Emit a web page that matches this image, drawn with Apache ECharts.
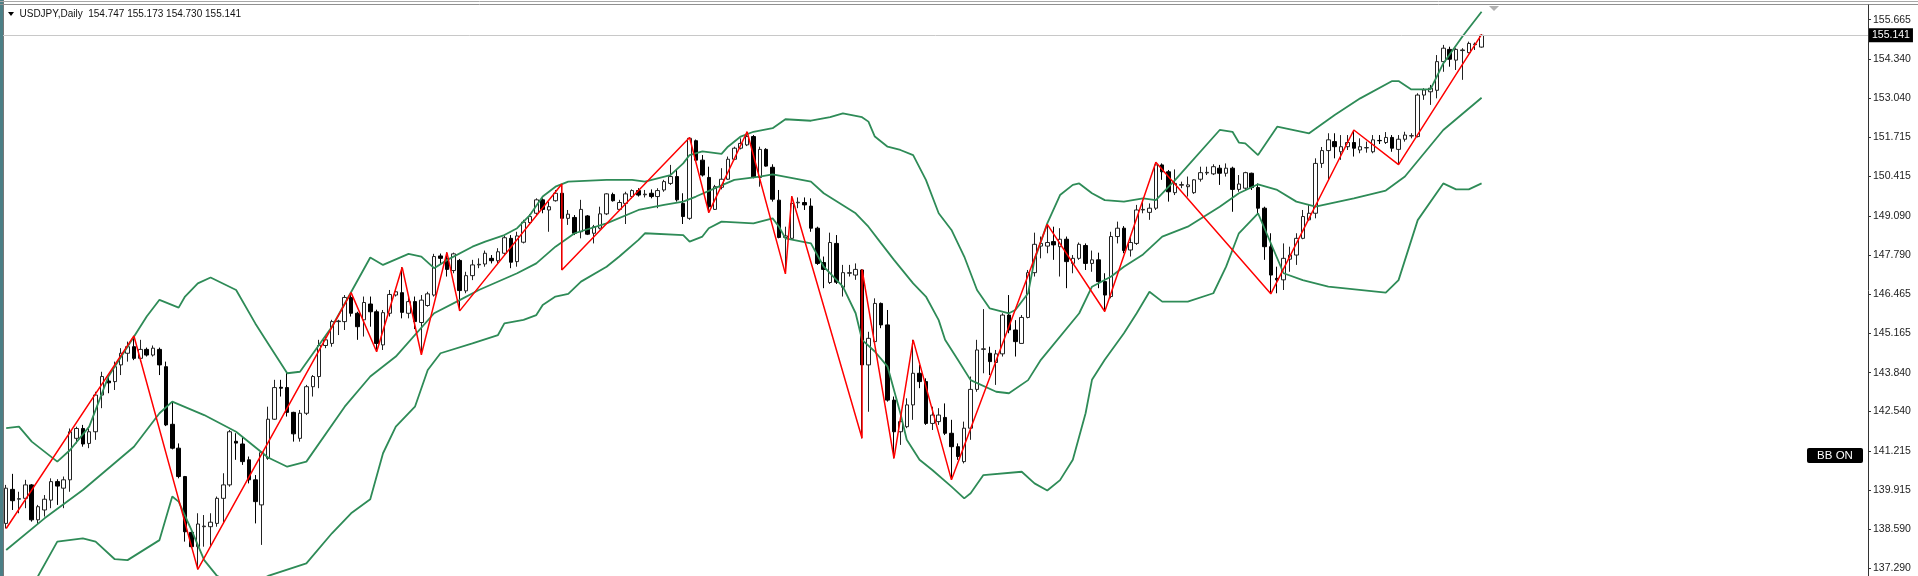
<!DOCTYPE html>
<html><head><meta charset="utf-8">
<script src="https://cdn.jsdelivr.net/npm/echarts@6/dist/echarts.min.js"></script>
<style>html,body{margin:0;padding:0;background:#fff;overflow:hidden}#c{width:1918px;height:576px}</style>
</head><body><div id="c"></div>
<script>
const symbolName = 'USDJPY,Daily';
const open = [138.79,139.93,139.60,139.63,140.08,138.91,139.24,139.57,140.19,139.97,
140.25,141.64,141.97,141.47,141.86,143.09,143.56,143.54,144.10,144.49,
144.71,144.32,144.62,144.43,144.62,144.04,142.11,141.31,140.36,138.49,
138.01,138.68,138.68,138.79,139.63,140.08,141.54,141.45,140.92,140.25,
139.41,140.97,142.28,143.35,143.34,142.51,141.64,142.48,143.37,143.71,
144.75,144.82,145.55,145.55,146.36,145.83,145.61,146.14,145.88,144.77,
145.83,146.44,146.52,145.83,146.22,145.52,146.09,146.44,147.75,147.67,
147.26,147.60,146.58,147.09,147.45,147.48,147.67,147.59,147.84,148.34,
147.56,148.21,148.87,149.18,149.63,149.29,149.60,149.85,149.01,149.04,
148.56,149.09,148.51,148.68,149.16,149.81,149.31,149.51,149.74,149.94,
149.80,149.85,149.74,149.96,150.18,150.41,149.51,149.01,151.61,150.96,
150.38,149.31,150.05,150.32,150.99,151.36,151.47,151.75,150.38,151.32,
150.72,149.62,148.37,148.34,149.53,149.54,149.42,148.68,147.53,146.86,
148.17,146.70,147.17,147.11,147.28,144.10,144.88,146.16,145.44,142.92,
141.86,142.03,142.76,143.82,143.54,142.14,142.20,142.34,141.81,141.36,
140.86,141.98,143.28,144.62,144.49,144.18,144.47,145.77,145.27,144.82,
145.69,147.19,148.08,148.08,148.23,148.06,148.31,147.50,147.67,148.10,
147.50,147.62,146.89,146.39,148.40,148.68,147.95,148.17,149.29,149.21,
149.35,150.80,150.57,149.87,150.12,150.07,149.87,150.32,150.53,150.50,
150.69,150.52,150.69,149.98,150.02,150.52,150.04,149.35,148.06,147.00,
146.95,147.64,147.78,148.34,148.96,149.18,150.85,151.28,151.58,151.24,
151.41,151.55,151.30,151.37,151.24,151.62,151.55,151.72,151.32,151.66,
151.77,151.75,153.14,153.25,153.30,154.26,154.67,154.31,154.63,154.56,
154.83,154.747];
const high = [140.08,140.45,139.85,140.25,140.11,139.41,139.74,140.30,140.27,140.36,
141.97,142.03,142.09,141.97,143.20,143.87,143.71,144.21,144.66,144.88,
145.07,144.94,144.68,144.75,144.68,144.21,142.87,141.47,140.38,138.51,
139.13,139.07,139.13,139.69,140.47,141.92,141.81,141.70,141.03,140.41,
141.19,142.70,143.60,143.60,143.87,142.53,142.59,143.43,143.76,144.94,
145.10,145.61,145.61,146.44,146.52,145.88,146.39,146.39,145.95,145.94,
146.61,146.63,147.37,146.39,146.39,146.44,146.55,147.82,147.83,147.87,
147.86,147.65,147.22,147.62,147.67,147.93,147.78,148.01,148.42,148.45,
148.56,148.96,149.15,149.68,149.68,149.57,149.96,150.16,149.29,149.12,
149.63,149.12,148.79,149.40,149.85,149.87,149.63,149.90,149.98,150.02,
149.96,149.98,150.02,150.30,150.80,150.63,149.85,151.72,151.65,151.13,
150.74,150.13,150.69,151.08,151.41,151.69,151.91,151.80,151.41,151.36,
150.82,149.96,148.73,149.75,149.71,149.71,149.68,148.73,147.73,148.53,
148.45,147.45,147.45,147.50,147.30,145.21,146.33,146.19,145.94,143.04,
142.48,142.98,144.94,144.10,143.65,142.70,142.65,142.81,142.26,141.47,
142.20,143.71,144.94,145.97,144.71,144.60,145.83,146.44,145.60,145.77,
147.28,148.53,148.40,148.81,148.73,148.68,148.40,147.78,148.20,148.17,
147.93,147.86,147.17,148.56,148.90,148.75,148.40,149.46,149.63,149.51,
150.89,150.85,150.63,150.65,150.24,150.41,150.32,150.74,150.74,150.82,
150.80,150.85,150.74,150.46,150.57,150.54,150.18,149.40,148.51,147.39,
148.17,148.06,148.51,149.29,149.46,151.02,151.40,151.86,151.86,151.80,
151.80,151.97,151.69,151.58,151.80,151.80,151.90,151.80,151.80,151.91,
151.86,153.20,153.37,153.48,154.48,154.82,154.76,154.71,154.71,154.93,
154.90,155.173];
const low = [138.62,139.24,139.13,139.30,138.85,138.77,139.02,139.30,139.41,139.30,
139.85,141.47,141.36,141.31,141.59,142.65,143.15,143.26,143.76,144.21,
144.26,144.21,144.38,144.38,143.76,142.05,141.27,140.30,138.18,137.96,
137.25,138.01,138.01,138.68,138.79,140.02,140.92,140.75,140.13,138.79,
138.07,140.92,142.26,143.04,142.37,141.53,141.53,142.42,143.04,143.32,
144.66,144.71,145.10,145.27,145.72,144.94,145.05,145.38,144.54,144.60,
145.72,146.39,145.66,145.66,145.30,144.44,146.05,146.39,147.45,147.06,
147.17,145.91,146.50,146.94,147.34,147.39,147.50,147.50,147.75,147.34,
147.39,148.17,148.79,149.12,149.18,148.56,149.57,147.28,148.79,148.45,
148.34,148.45,148.17,148.64,149.12,149.57,149.29,148.82,149.68,149.74,
149.71,149.68,149.35,149.90,150.13,149.57,148.82,148.96,150.91,150.41,
149.20,149.29,149.98,150.30,150.96,151.32,151.43,150.35,150.07,150.74,
149.57,148.34,147.15,148.29,149.35,149.29,148.56,147.45,146.67,146.81,
146.81,146.39,147.06,146.95,141.64,142.53,144.82,145.33,142.87,140.97,
141.42,141.98,142.26,143.32,142.09,141.92,142.09,141.75,140.25,140.92,
140.80,141.59,143.20,143.82,143.76,143.43,144.38,145.16,144.38,144.82,
145.66,147.06,147.67,147.84,147.62,147.06,146.67,147.17,147.62,147.28,
147.22,146.67,145.89,146.33,148.17,147.84,147.73,148.12,149.18,148.96,
149.29,150.30,149.57,149.79,150.02,149.74,149.83,150.24,150.46,150.46,
150.13,150.41,149.23,149.90,149.96,149.96,149.18,147.62,146.48,146.50,
146.61,147.22,147.45,148.31,148.93,149.01,150.70,150.30,151.02,150.97,
151.30,151.08,151.19,151.21,151.19,151.50,151.50,151.24,150.81,151.58,
151.69,151.72,152.98,152.81,153.03,153.92,154.09,153.98,153.65,154.54,
154.65,154.730];
const close = [139.97,139.55,139.62,140.08,138.91,139.35,139.60,140.19,140.04,140.25,
141.86,141.97,141.45,141.86,143.09,143.71,143.50,144.04,144.49,144.71,
144.32,144.62,144.43,144.66,144.10,142.09,141.31,140.36,138.51,138.01,
138.77,138.70,138.83,139.63,140.08,141.86,141.48,140.86,140.25,139.52,
141.16,142.28,143.34,143.32,142.51,141.79,142.48,143.37,143.71,144.75,
144.94,145.55,145.57,146.36,145.83,145.38,146.19,145.88,144.82,145.85,
146.46,146.55,145.86,146.22,145.55,146.27,146.48,147.73,147.67,147.30,
147.82,146.59,147.09,147.45,147.47,147.84,147.59,147.89,148.36,147.54,
148.42,148.88,149.07,149.63,149.31,149.40,149.85,149.01,149.15,148.51,
149.31,148.48,148.73,149.16,149.83,149.60,149.54,149.83,149.94,149.79,
149.82,149.74,149.94,150.24,150.41,149.63,149.07,151.69,150.96,150.46,
149.40,150.07,150.32,150.99,151.36,151.52,151.75,150.38,151.32,150.76,
149.65,148.37,148.42,149.51,149.55,149.46,148.68,147.50,147.30,148.20,
146.87,147.19,147.19,147.30,144.10,144.99,146.16,145.44,142.92,141.86,
142.20,142.76,143.82,143.54,142.14,142.42,142.42,141.81,141.36,141.03,
141.98,143.28,144.60,144.64,144.21,144.47,145.77,145.27,144.88,145.69,
147.19,148.14,148.17,148.20,148.12,148.31,147.56,147.67,148.14,147.50,
147.62,146.89,146.44,148.40,148.68,147.93,148.20,149.29,149.31,149.35,
150.80,150.57,149.90,150.18,150.14,150.13,150.30,150.54,150.55,150.74,
150.52,150.69,149.98,150.16,150.54,150.04,149.35,148.06,147.11,146.95,
147.67,147.78,148.34,149.07,149.18,150.85,151.28,151.64,151.41,151.41,
151.55,151.36,151.41,151.38,151.64,151.61,151.72,151.36,151.66,151.80,
151.78,153.14,153.31,153.37,154.26,154.71,154.34,154.67,154.65,154.87,
154.85,155.141];

// Bollinger band lines: [bar index, price]
const bbUpper = [[0,141.98],[2,142.03],[4,141.53],[8,140.86],[10,141.25],[13,142.03],[16,143.71],[19,144.71],[22,145.72],[24,146.28],[27,146.02],[28,146.39],[30,146.83],[32,147.03],[36,146.61],[39,145.49],[41,144.82],[44,143.82],[46,143.87],[51,145.38],[57,147.70],[59,147.45],[63,147.82],[65,147.73],[67,147.34],[69,147.61],[73,148.06],[75,148.23],[78,148.45],[80,148.68],[82,149.12],[84,149.74],[86,150.07],[88,150.24],[94,150.30],[98,150.30],[100,150.24],[104,150.46],[106,150.85],[107,151.13],[109,151.25],[112,151.17],[113,151.41],[115,151.75],[117,151.91],[120,152.03],[122,152.33],[126,152.28],[129,152.40],[131,152.53],[134,152.40],[135,152.25],[136,151.75],[138,151.41],[140,151.30],[142,151.13],[144,150.30],[146,149.18],[148,148.62],[150,147.73],[152,146.61],[154,145.99],[157,145.83],[158,145.94],[160,146.50],[161,147.62],[163,148.84],[165,149.79],[167,150.13],[168,150.18],[170,149.85],[172,149.62],[175,149.57],[178,149.68],[180,149.62],[183,150.29],[190,151.97],[192,151.91],[193,151.55],[194,151.52],[196,151.13],[199,152.08],[204,151.86],[208,152.47],[212,153.03],[217,153.61],[218,153.61],[220,153.33],[223,153.33],[225,154.20],[228,155.10],[231,155.93]];
const bbMiddle = [[0,137.90],[6,138.96],[12,139.91],[20,141.36],[24,142.48],[26,142.87],[31,142.42],[36,141.86],[41,141.00],[44,140.69],[47,140.86],[53,142.70],[57,143.71],[61,144.38],[67,145.83],[71,146.27],[74,146.61],[80,147.17],[83,147.50],[86,148.06],[89,148.51],[94,148.84],[99,149.29],[103,149.46],[106,149.57],[108,149.74],[111,150.02],[114,150.30],[118,150.41],[120,150.48],[126,150.24],[128,149.85],[133,149.18],[135,148.73],[137,148.17],[139,147.62],[142,146.83],[144,146.39],[146,145.60],[147,144.94],[149,144.27],[151,143.59],[155,143.20],[157,143.15],[160,143.59],[162,144.27],[168,145.83],[170,146.72],[173,147.06],[175,147.39],[178,147.80],[181,148.40],[185,148.73],[190,149.40],[193,149.85],[196,150.15],[199,149.96],[202,149.57],[205,149.40],[211,149.68],[216,149.94],[219,150.41],[225,151.97],[231,153.05]];
const bbLower = [[0,133.8],[3,135.6],[5,137.03],[8,138.18],[12,138.29],[14,138.18],[17,137.59],[19,137.56],[24,138.23],[26,139.69],[27,139.52],[29,138.57],[31,137.56],[33,137.03],[36,136.75],[39,136.8],[41,137.03],[47,137.45],[51,138.46],[54,139.13],[57,139.6],[59,141.14],[61,142.03],[64,142.70],[66,143.93],[68,144.49],[73,144.82],[77,145.10],[78,145.49],[81,145.61],[83,145.77],[84,146.11],[86,146.39],[88,146.48],[90,146.89],[94,147.39],[96,147.73],[99,148.29],[100,148.51],[106,148.45],[107,148.23],[109,148.40],[110,148.68],[112,148.90],[117,148.84],[120,149.01],[121,148.73],[122,148.34],[126,148.17],[128,147.39],[131,146.72],[133,145.83],[134,144.94],[136,144.55],[138,144.04],[140,142.48],[141,141.59],[143,140.92],[145,140.58],[148,140.02],[150,139.63],[151,139.80],[153,140.41],[159,140.52],[161,140.13],[163,139.89],[165,140.24],[167,140.92],[169,142.48],[170,143.60],[172,144.27],[175,145.16],[177,145.83],[179,146.55],[181,146.22],[185,146.22],[189,146.50],[191,147.39],[193,148.51],[196,149.18],[200,147.17],[203,146.94],[207,146.72],[216,146.52],[218,146.94],[221,148.95],[225,150.18],[227,149.98],[229,149.98],[231,150.18]];
// ZigZag pivots: [bar index, price]
const zigzag = [[0,138.62],[20,145.07],[30,137.25],[54,146.52],[58,144.54],[62,147.37],[65,144.44],[69,147.87],[71,145.91],[87,150.16],[87,147.28],[107,151.72],[110,149.20],[116,151.91],[122,147.15],[123,149.75],[134,141.64],[134,147.30],[139,140.97],[142,144.94],[148,140.25],[163,148.81],[172,145.89],[180,150.89],[198,146.48],[211,151.97],[218,150.81],[231,155.17]];
const yTicks = [155.665,154.340,153.040,151.715,150.415,149.090,147.790,146.465,145.165,143.840,142.540,141.215,139.915,138.590,137.290];

const N = open.length;
const TOTAL = 292;
const categories = (function(){
  const out=[]; const d=new Date(Date.UTC(2023,5,2));
  const skip={'2023-12-25':1,'2024-01-01':1};
  while(out.length<N){const wd=d.getUTCDay();const s=d.toISOString().slice(0,10);
    if(wd!==0&&wd!==6&&!skip[s]) out.push(s); d.setUTCDate(d.getUTCDate()+1);}
  let k=1; while(out.length<TOTAL) out.push('+'+(k++));
  return out;})();
const candleData = open.map((o,i)=>[o, close[i], low[i], high[i]]);
const last = N-1;
const FONT = '"Liberation Sans", Arial, sans-serif';
const chart = echarts.init(document.getElementById('c'), null, {renderer:'canvas'});
const green = '#2e8b57';
const titleText = symbolName + '  ' + [open[last],high[last],low[last],close[last]].map(v=>v.toFixed(3)).join(' ');
chart.setOption({
  animation:false,
  backgroundColor:'#ffffff',
  grid:{left:3, right:50, top:5, bottom:0, containLabel:false},
  xAxis:{type:'category', data:categories, boundaryGap:true, show:false},
  yAxis:{type:'value', position:'right', min:137.028, max:156.157,
    axisLine:{show:true, lineStyle:{color:'#333', width:1}},
    axisTick:{show:true, length:3, lineStyle:{color:'#333'}, customValues:yTicks},
    axisLabel:{show:true, customValues:yTicks, formatter:v=>Number(v).toFixed(3), color:'#222', fontSize:10.5, fontFamily:FONT, margin:5},
    splitLine:{show:false}},
  series:[
    {type:'candlestick', data:candleData, barWidth:4, z:2,
     itemStyle:{color:'#ffffff', color0:'#000000', borderColor:'#222', borderColor0:'#000', borderColorDoji:'#222', borderWidth:1},
     markLine:{silent:true, symbol:['none','none'], animation:false,
       data:[{yAxis:close[last]}],
       lineStyle:{color:'#c8c8c8', width:1, type:'solid'},
       label:{show:true, position:'end', formatter:close[last].toFixed(3), color:'#fff', backgroundColor:'#000', padding:[2,3,1,3], fontSize:10.5, fontFamily:FONT, distance:1},
       emphasis:{disabled:true}}},
    {type:'line', data:bbUpper, showSymbol:false, z:3, lineStyle:{color:green, width:1.8}, itemStyle:{color:green}},
    {type:'line', data:bbMiddle, showSymbol:false, z:3, lineStyle:{color:green, width:1.8}, itemStyle:{color:green}},
    {type:'line', data:bbLower, showSymbol:false, z:3, lineStyle:{color:green, width:1.8}, itemStyle:{color:green}},
    {type:'line', data:zigzag, showSymbol:false, z:4, lineStyle:{color:'#ff0000', width:1.5}, itemStyle:{color:'#ff0000'}}
  ],
  graphic:[
    {type:'rect', shape:{x:0,y:0,width:3,height:576}, style:{fill:'#4b7f86'}, silent:true},
    {type:'line', shape:{x1:3.5,y1:0,x2:3.5,y2:576}, style:{stroke:'#777', lineWidth:1}, silent:true},
    {type:'line', shape:{x1:0,y1:1.5,x2:1918,y2:1.5}, style:{stroke:'#a8a8a8', lineWidth:1}, silent:true},
    {type:'line', shape:{x1:0,y1:4.5,x2:1918,y2:4.5}, style:{stroke:'#909090', lineWidth:1}, silent:true},
    {type:'polygon', shape:{points:[[8,12],[14,12],[11,16]]}, style:{fill:'#000'}, silent:true},
    {type:'text', x:19.5, y:14.5, style:{text:titleText, font:'10px '+FONT, fill:'#111', textVerticalAlign:'middle'}, silent:true},
    {type:'polygon', shape:{points:[[1489,6],[1499,6],[1494,11]]}, style:{fill:'#b0b0b0'}, silent:true},
    {type:'rect', shape:{x:1807,y:448,width:56,height:15,r:2}, style:{fill:'#000'}, silent:true},
    {type:'text', x:1835, y:455.5, style:{text:'BB ON', font:'11.5px '+FONT, fill:'#fff', textAlign:'center', textVerticalAlign:'middle'}, silent:true}
  ]
});
</script></body></html>
